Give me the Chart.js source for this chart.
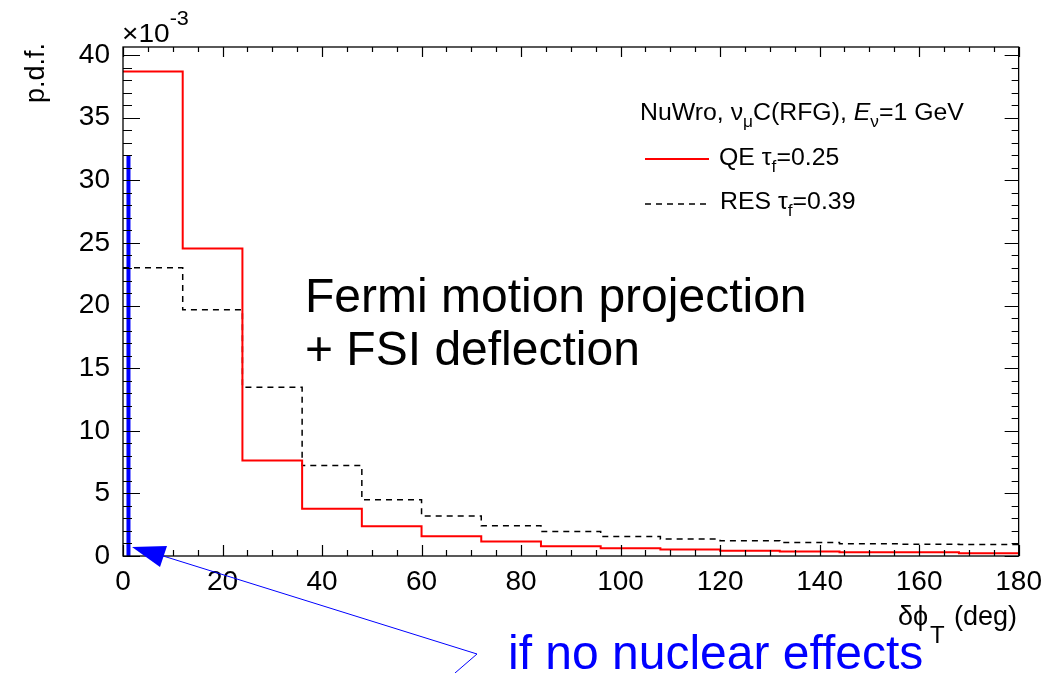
<!DOCTYPE html>
<html>
<head>
<meta charset="utf-8">
<title>dphiT p.d.f.</title>
<script src="https://cdn.jsdelivr.net/npm/chart.js@4.4.1/dist/chart.umd.min.js"></script>
<style>
  body { margin: 0; background: #fff; }
  #wrap { width: 1051px; height: 673px; position: relative; }
</style>
</head>
<body>
<div id="wrap"><canvas id="pdfChart"></canvas></div>
<script>
// delta phi_T distributions from NuWro, numu C (RFG), Enu = 1 GeV
// y values are in units of 1e-3
const binEdges = [0, 12, 24, 36, 48, 60, 72, 84, 96, 108, 120, 132, 144, 156, 168, 180];
const qeValues = [38.7, 24.55, 7.62, 3.77, 2.37, 1.58, 1.16, 0.78, 0.62, 0.52, 0.41, 0.36, 0.3, 0.29, 0.22];
const resValues = [23.02, 19.66, 13.47, 7.23, 4.49, 3.19, 2.41, 1.96, 1.56, 1.35, 1.21, 1.08, 0.97, 0.93, 0.92];
const noNuclearX = 1.1;      // delta peak without nuclear effects
const noNuclearPeak = 32;
const xTickLabels = [0, 20, 40, 60, 80, 100, 120, 140, 160, 180];
const yTickLabels = [0, 5, 10, 15, 20, 25, 30, 35, 40];
const yMax = 40.65;

const FONT = "'Liberation Sans', Arial, Helvetica, sans-serif";
const BLUE = "#0000ff";

// histogram outline: one point per bin low edge, plus the last edge
function histPoints(values) {
  const pts = values.map((v, i) => ({ x: binEdges[i], y: v }));
  pts.push({ x: binEdges[binEdges.length - 1], y: values[values.length - 1] });
  return pts;
}

// draw text made of pieces (subscripts, italics) left to right, sx = horizontal stretch
function richText(ctx, x, y, parts, sx) {
  ctx.save();
  ctx.translate(x, y);
  ctx.scale(sx || 1, 1);
  ctx.textAlign = "left";
  ctx.textBaseline = "alphabetic";
  let cx = 0;
  parts.forEach((p) => {
    ctx.font = p.font;
    ctx.fillStyle = p.color || "#000";
    ctx.fillText(p.t, cx, p.dy || 0);
    cx += ctx.measureText(p.t).width + (p.gap || 0);
  });
  ctx.restore();
}

// ROOT style frame with ticks pointing inwards, plus the labels around it
const rootFrame = {
  id: "rootFrame",
  afterDraw(chart) {
    const { ctx, chartArea: a, scales } = chart;
    const x = scales.x, y = scales.y;
    ctx.save();

    // frame
    ctx.strokeStyle = "#000";
    ctx.lineWidth = 1.3;
    ctx.strokeRect(a.left, a.top, a.right - a.left, a.bottom - a.top);

    // ticks
    ctx.beginPath();
    ctx.lineWidth = 1.2;
    for (let v = 0; v <= 180; v += 5) {
      const px = Math.round(x.getPixelForValue(v)) + 0.5;
      const major = v % 20 === 0;
      ctx.moveTo(px, a.bottom);
      ctx.lineTo(px, a.bottom - (major ? 11 : 6));
      ctx.moveTo(px, a.top);
      ctx.lineTo(px, a.top + (major ? 10 : 5));
    }
    for (let v = 0; v <= 40; v += 1) {
      const py = Math.round(y.getPixelForValue(v)) + 0.5;
      const major = v % 5 === 0;
      ctx.moveTo(a.left, py);
      ctx.lineTo(a.left + (major ? 17 : 9), py);
      ctx.moveTo(a.right, py);
      ctx.lineTo(a.right - (major ? 14 : 7), py);
    }
    ctx.stroke();

    // exponent above the y axis
    richText(ctx, a.left - 1, 42, [
      { t: "\u00d710", font: "26px " + FONT },
      { t: "-3", font: "20px " + FONT, dy: -17 },
    ], 1.08);

    // y title
    ctx.save();
    ctx.translate(44, 43);
    ctx.rotate(-Math.PI / 2);
    ctx.font = "27px " + FONT;
    ctx.fillStyle = "#000";
    ctx.textAlign = "right";
    ctx.textBaseline = "alphabetic";
    ctx.fillText("p.d.f.", 0, 0);
    ctx.restore();

    // x title
    ctx.fillStyle = "#000";
    ctx.textAlign = "left";
    ctx.textBaseline = "alphabetic";
    ctx.font = "27px " + FONT;
    ctx.fillText("\u03b4\u03d5", 898, 625);
    ctx.font = "24px " + FONT;
    ctx.fillText("T", 930, 643);
    ctx.font = "27px " + FONT;
    ctx.fillText("(deg)", 954, 625);

    // legend
    const lf = "23px " + FONT, sf = "16px " + FONT;
    richText(ctx, 640, 120, [
      { t: "NuWro, \u03bd", font: lf },
      { t: "\u03bc", font: sf, dy: 7 },
      { t: "C(RFG), ", font: lf },
      { t: "E", font: "italic " + lf },
      { t: "\u03bd", font: sf, dy: 7 },
      { t: "=1 GeV", font: lf },
    ], 1.08);
    ctx.beginPath();
    ctx.strokeStyle = "#ff0000";
    ctx.lineWidth = 2;
    ctx.moveTo(645, 159);
    ctx.lineTo(709, 159);
    ctx.stroke();
    ctx.beginPath();
    ctx.strokeStyle = "#000";
    ctx.lineWidth = 1.5;
    ctx.setLineDash([6, 5]);
    ctx.moveTo(645, 204);
    ctx.lineTo(709, 204);
    ctx.stroke();
    ctx.setLineDash([]);
    richText(ctx, 719, 165, [
      { t: "QE \u03c4", font: lf },
      { t: "f", font: sf, dy: 7 },
      { t: "=0.25", font: lf },
    ], 1.08);
    richText(ctx, 720, 209, [
      { t: "RES \u03c4", font: lf },
      { t: "f", font: sf, dy: 7 },
      { t: "=0.39", font: lf },
    ], 1.08);

    // annotation in the plot
    ctx.font = "48px " + FONT;
    ctx.fillStyle = "#000";
    ctx.textAlign = "left";
    ctx.fillText("Fermi motion projection", 305, 312);
    ctx.fillText("+ FSI deflection", 305, 365);

    // arrow to the delta peak
    ctx.strokeStyle = BLUE;
    ctx.fillStyle = BLUE;
    ctx.lineWidth = 1;
    ctx.beginPath();
    ctx.moveTo(455, 673);
    ctx.lineTo(477, 654);
    ctx.lineTo(160, 555);
    ctx.stroke();
    ctx.beginPath();
    ctx.moveTo(132, 547);
    ctx.lineTo(167, 546);
    ctx.lineTo(160, 567);
    ctx.closePath();
    ctx.fill();
    ctx.font = "48px " + FONT;
    ctx.fillText("if no nuclear effects", 508, 669);

    ctx.restore();
  },
};

const ctx = document.getElementById("pdfChart").getContext("2d");
const chart = new Chart(ctx, {
  type: "line",
  data: {
    datasets: [
      {
        label: "QE",
        data: histPoints(qeValues),
        stepped: true,
        borderColor: "#ff0000",
        borderWidth: 2,
        pointRadius: 0,
        fill: false,
      },
      {
        label: "RES",
        data: histPoints(resValues),
        stepped: true,
        borderColor: "#000000",
        borderWidth: 1.5,
        borderDash: [6, 5],
        pointRadius: 0,
        fill: false,
      },
      {
        label: "no nuclear effects",
        data: [
          { x: noNuclearX, y: 0 },
          { x: noNuclearX, y: noNuclearPeak },
        ],
        borderColor: BLUE,
        borderWidth: 4,
        pointRadius: 0,
        fill: false,
      },
    ],
  },
  options: {
    responsive: true,
    maintainAspectRatio: false,
    animation: false,
    layout: { padding: { left: 0, right: 30, top: 47, bottom: 0 } },
    plugins: {
      legend: { display: false },
      tooltip: { enabled: false },
    },
    scales: {
      x: {
        type: "linear",
        min: 0,
        max: 180,
        grid: { display: false, drawTicks: false },
        border: { display: false },
        afterBuildTicks: (s) => {
          s.ticks = xTickLabels.map((v) => ({ value: v }));
        },
        afterFit: (s) => {
          s.height = 117;
        },
        ticks: {
          padding: 9,
          color: "#000",
          maxRotation: 0,
          autoSkip: false,
          font: { family: FONT, size: 28 },
        },
      },
      y: {
        type: "linear",
        min: 0,
        max: yMax,
        grid: { display: false, drawTicks: false },
        border: { display: false },
        afterBuildTicks: (s) => {
          s.ticks = yTickLabels.map((v) => ({ value: v }));
        },
        afterFit: (s) => {
          s.width = 123;
        },
        ticks: {
          padding: 13,
          color: "#000",
          autoSkip: false,
          font: { family: FONT, size: 28 },
        },
      },
    },
  },
  plugins: [rootFrame],
});
</script>
</body>
</html>
